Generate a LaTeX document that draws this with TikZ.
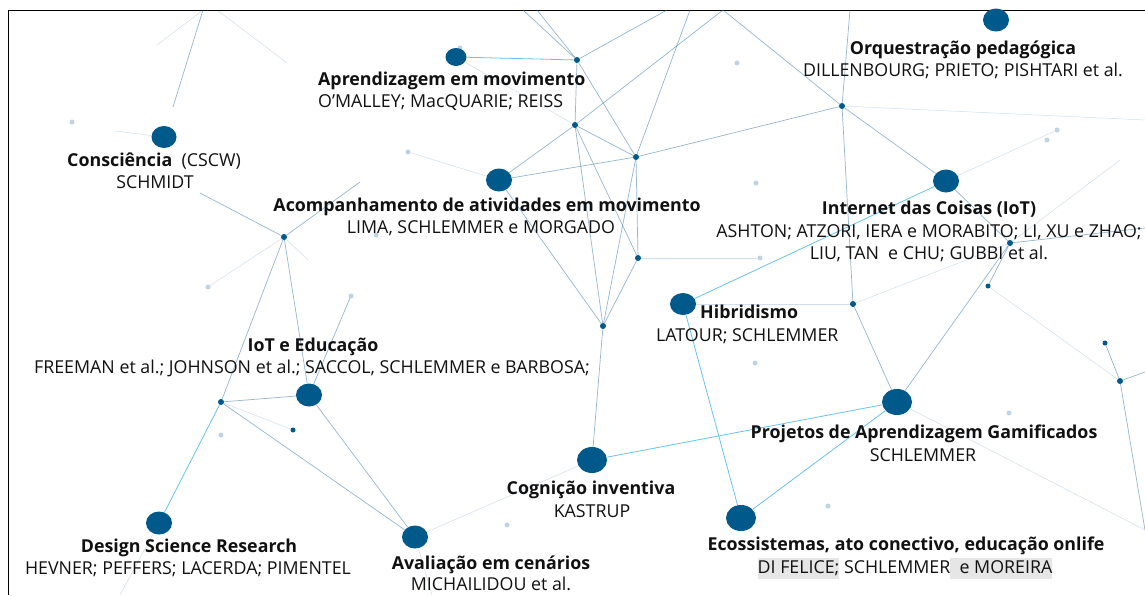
\documentclass[tikz,border=0pt]{standalone}
\usepackage{fontspec}
\setmainfont{Open Sans}
\usetikzlibrary{shapes.geometric}
\definecolor{nodeblue}{HTML}{00598B}
\definecolor{netblue}{HTML}{2E6FA3}
\definecolor{hlblue}{HTML}{69C3EE}
\definecolor{txt}{HTML}{111111}
\definecolor{hlgray}{HTML}{E6E6E6}
\newcommand{\hlbox}[1]{{\setlength{\fboxsep}{0pt}\colorbox{hlgray}{\strut #1}}}
\tikzset{
  bignode/.style={ellipse,fill=nodeblue,inner sep=0pt,minimum width=26pt,minimum height=23pt},
  hubnode/.style={circle,fill=nodeblue,inner sep=0pt,minimum size=6pt},
  fuzzy/.style={circle,fill=netblue,opacity=0.3,inner sep=0pt,minimum size=5pt},
  netline/.style={draw=netblue,line width=0.7pt,opacity=0.5},
  faintline/.style={draw=netblue,line width=0.5pt,opacity=0.22},
  hlline/.style={draw=hlblue,line width=0.8pt},
  ttl/.style={anchor=base,font=\fontsize{17.8}{21}\selectfont\bfseries,text=txt,inner sep=0pt},
  aut/.style={anchor=base,font=\fontsize{17.8}{21}\selectfont,text=txt,inner sep=0pt},
}
\begin{document}
\begin{tikzpicture}[x=1pt,y=-1pt]
\useasboundingbox (0,0) rectangle (1145,595);
\fill[white] (0,0) rectangle (1145,595);
% frame
\coordinate (fTL) at (8,10);
\coordinate (fTR) at (1145,10);
\coordinate (fBL) at (8,595);
\draw[black,line width=1pt] (fTR) -- (fTL) -- (fBL);

% hubs
\node[hubnode] (h1) at (577,60) {};
\node[hubnode] (h2) at (575,125) {};
\node[hubnode] (h3) at (636,157) {};
\node[hubnode] (h4) at (842,106) {};
\node[hubnode] (h5) at (284,237) {};
\node[hubnode] (h6) at (638,258) {};
\node[hubnode] (h7) at (603,326) {};
\node[hubnode] (h8) at (221,402) {};
\node[hubnode] (h9) at (853,304) {};
\node[hubnode] (h10) at (1010,243) {};
\node[hubnode] (h11) at (1120,381) {};
\node[hubnode,minimum size=5pt] (h12) at (988,286) {};
\node[hubnode,minimum size=5pt] (h13) at (1105,343) {};
\node[hubnode,minimum size=5pt] (h14) at (293,430) {};

% faint dots
\foreach \n/\p in {d1/{(72,122)},d2/{(408,152)},d3/{(351,296)},d4/{(221,435)},d5/{(507,525)},d6/{(1009,413)},d7/{(1057,130)},d8/{(760,258)},d9/{(737,63)},d10/{(756,183)},d11/{(755,363)},d12/{(828,506)},d13/{(208,287)},d14/{(376,235)},d15/{(1047,140)},d16/{(460,48)}}
  \node[fuzzy] (\n) at \p {};

% free-end coordinates
\coordinate (t1) at (523,10);
\coordinate (t2) at (537,10);
\coordinate (t3) at (667,10);
\coordinate (t4) at (690,10);
\coordinate (t5) at (723,10);
\coordinate (t6) at (850,10);
\coordinate (t7) at (203,10);
\coordinate (t8) at (217,10);
\coordinate (u1) at (173,107);
\coordinate (u2) at (157,45);
\coordinate (u3) at (287,63);
\coordinate (u4) at (200,193);
\coordinate (u5) at (360,182);
\coordinate (u6) at (350,298);
\coordinate (u7) at (115,131);
\coordinate (u8) at (308,260);
\coordinate (r1) at (1145,228);
\coordinate (r2) at (1145,372);
\coordinate (r3) at (1145,530);
\coordinate (r4) at (1120,160);
\coordinate (r5) at (1145,120);
\coordinate (b1) at (120,595);
\coordinate (b2) at (432,595);

% main nodes
\node[bignode,minimum width=21pt,minimum height=18pt] (apr) at (456,57) {};
\node[bignode] (orq) at (996,20) {};
\node[bignode,minimum width=25pt,minimum height=22pt] (con) at (164,137) {};
\node[bignode] (aco) at (499,180) {};
\node[bignode] (iot) at (946,181) {};
\node[bignode,minimum height=22pt] (hib) at (683,304) {};
\node[bignode] (ied) at (309,395) {};
\node[bignode,minimum width=30pt,minimum height=26pt] (pro) at (897,402) {};
\node[bignode,minimum width=30pt,minimum height=26pt] (cog) at (592,460) {};
\node[bignode] (dsr) at (159,523) {};
\node[bignode] (ava) at (415,537) {};
\node[bignode,minimum width=30pt,minimum height=26pt] (eco) at (741,518) {};

% network lines
\draw[netline] (t1) -- (h1);
\draw[netline] (t2) -- (h1);
\draw[netline] (h1) -- (t3);
\draw[netline] (h1) -- (h2);
\draw[netline] (h1) -- (h3);
\draw[netline] (h2) -- (h3);
\draw[netline] (h2) -- (aco);
\draw[netline] (h3) -- (aco);
\draw[netline] (h2) -- (t5);
\draw[netline] (h3) -- (t4);
\draw[netline] (h3) -- (h4);
\draw[netline] (h3) -- (h6);
\draw[netline] (h2) -- (h6);
\draw[netline] (h2) -- (h7);
\draw[netline] (h3) -- (h7);
\draw[netline] (h6) -- (h7);
\draw[netline] (aco) -- (h7);
\draw[netline] (h7) -- (cog);
\draw[netline] (h4) -- (t5);
\draw[netline] (h4) -- (t6);
\draw[netline] (h4) -- (iot);
\draw[netline] (h4) -- (h9);
\draw[netline] (h9) -- (pro);
\draw[netline] (h10) -- (pro);
\draw[netline] (h10) -- (iot);
\draw[netline] (h10) -- (r1);
\draw[netline] (h10) -- (h12);
\draw[netline] (h13) -- (h11);
\draw[netline] (h11) -- (r2);
\draw[netline] (h11) -- (r3);
\draw[netline] (h5) -- (h8);
\draw[netline] (h5) -- (ied);
\draw[netline] (h5) -- (u4);
\draw[netline] (h5) -- (u5);
\draw[netline] (h8) -- (ied);
\draw[netline] (h8) -- (ava);
\draw[netline] (ied) -- (ava);
\draw[netline] (ied) -- (u6);
\draw[netline] (t7) -- (u1);
\draw[faintline] (t7) -- (u2);
\draw[faintline] (t8) -- (u3);
\draw[faintline] (con) -- (u7);
\draw[faintline] (ava) -- (cog);
\draw[faintline] (aco) -- (d2);
\draw[faintline] (h6) -- (d8);
\draw[faintline] (h10) -- (r4);
\draw[faintline] (h4) -- (r5);
\draw[faintline] (pro) -- (r3);
\draw[faintline] (h12) -- (h11);
\draw[faintline] (h9) -- (h10);
\draw[faintline] (h9) -- (hib);
\draw[faintline] (ava) -- (b2);
\draw[faintline] (dsr) -- (b1);
\draw[faintline] (h8) -- (h14);
\draw[faintline] (h5) -- (d13);
\draw[faintline] (h5) -- (u8);
\draw[faintline] (iot) -- (d7);
\draw[faintline] (apr) -- (h2);

% highlighted lines
\draw[hlline] (apr) -- (h1);
\draw[hlline] (dsr) -- (h8);
\draw[hlline] (hib) -- (iot);
\draw[hlline] (hib) -- (eco);
\draw[hlline] (cog) -- (pro);
\draw[hlline] (eco) -- (pro);

% labels
\node[ttl] (orqT) at (963,54) {Orquestração pedagógica};
\node[aut] (orqA) at (963,76) {DILLENBOURG; PRIETO; PISHTARI et al.};
\node[ttl,anchor=base west] (aprT) at (318,85) {Aprendizagem em movimento};
\node[aut,anchor=base west] (aprA) at (318,107) {O’MALLEY; MacQUARIE; REISS};
\node[ttl] (conT) at (154,166) {Consciência\ \ \mdseries(CSCW)};
\node[aut] (conA) at (155,188) {SCHMIDT};
\node[ttl] (acoT) at (487,211) {Acompanhamento de atividades em movimento};
\node[aut] (acoA) at (481,233) {LIMA, SCHLEMMER e MORGADO};
\node[ttl] (iotT) at (929,214) {Internet das Coisas (IoT)};
\node[aut] (iotA) at (929,237) {ASHTON; ATZORI, IERA e MORABITO; LI, XU e ZHAO;};
\node[aut] (iotB) at (929,259) {LIU, TAN\ \ e CHU; GUBBI et al.};
\node[ttl,anchor=base west] (hibT) at (700,318) {Hibridismo};
\node[aut,anchor=base west] (hibA) at (656,341) {LATOUR; SCHLEMMER};
\node[ttl] (iedT) at (313,351) {IoT e Educação};
\node[aut] (iedA) at (312,373) {FREEMAN et al.; JOHNSON et al.; SACCOL, SCHLEMMER e BARBOSA;};
\node[ttl] (proT) at (924,438) {Projetos de Aprendizagem Gamificados};
\node[aut] (proA) at (923,461) {SCHLEMMER};
\node[ttl] (cogT) at (591,494) {Cognição inventiva};
\node[aut] (cogA) at (592,517) {KASTRUP};
\node[ttl] (dsrT) at (189,552) {Design Science Research};
\node[aut] (dsrA) at (188,574) {HEVNER; PEFFERS; LACERDA; PIMENTEL};
\node[ttl] (avaT) at (491,569) {Avaliação em cenários};
\node[aut] (avaA) at (491,590) {MICHAILIDOU et al.};
\node[ttl] (ecoT) at (906,550) {Ecossistemas, ato conectivo, educação onlife};
\node[aut] (ecoA) at (905,573) {\hlbox{DI FELICE;} SCHLEMMER\hlbox{\ \ e MOREIRA}};
\end{tikzpicture}
\end{document}
